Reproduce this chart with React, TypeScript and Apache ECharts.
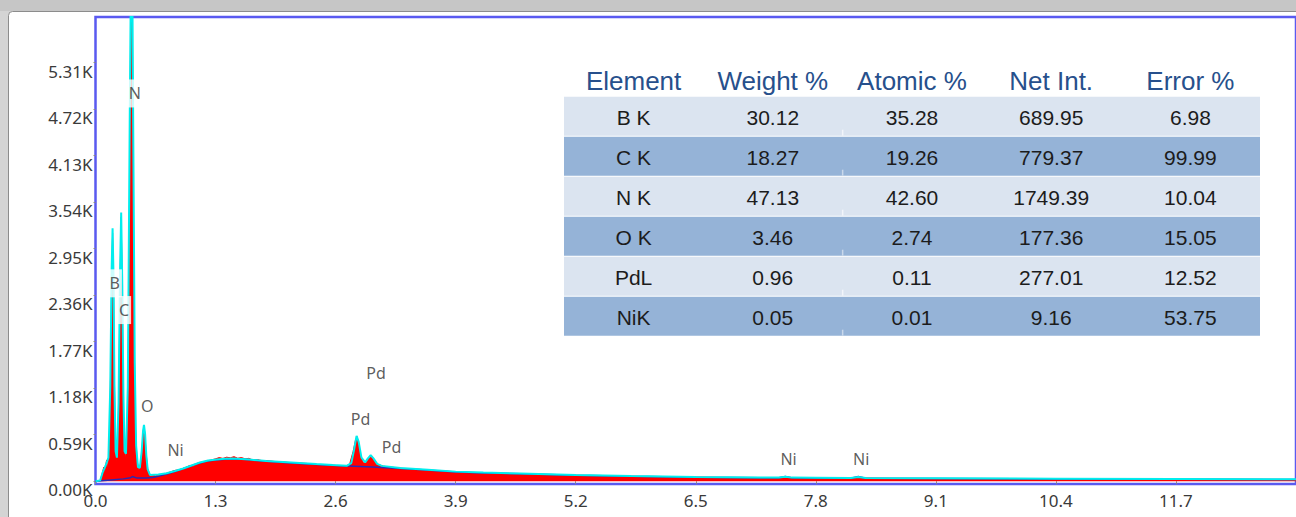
import React, { useEffect, useRef } from "react";
import * as echarts from "echarts";

// ---------- DATA ----------
const xTickInterval = 1.3;
const xMax = 13.0;
const yTickValues = [0, 590, 1180, 1770, 2360, 2950, 3540, 4130, 4720, 5310];

// measured spectrum (red filled)  [keV, counts]
const measuredSpectrum: [number, number][] = [
  [0.0, 0], [0.05, 0], [0.07, 90], [0.09, 180], [0.1, 120], [0.12, 270], [0.13, 160],
  [0.15, 420], [0.165, 1500], [0.175, 2600], [0.185, 3150], [0.195, 2500], [0.205, 1300],
  [0.215, 500], [0.225, 260], [0.24, 380], [0.255, 1300], [0.265, 2500], [0.278, 3350],
  [0.288, 2600], [0.298, 1300], [0.31, 450], [0.325, 280], [0.345, 700], [0.36, 2200],
  [0.375, 4800], [0.392, 7400], [0.405, 4600], [0.418, 2000], [0.432, 700], [0.45, 260],
  [0.47, 150], [0.49, 230], [0.505, 420], [0.515, 620], [0.525, 700], [0.535, 600],
  [0.548, 360], [0.565, 160], [0.59, 80], [0.65, 70], [0.72, 85], [0.78, 105], [0.85, 135],
  [0.92, 150], [0.98, 175], [1.02, 200], [1.06, 190], [1.1, 225], [1.15, 245], [1.2, 255],
  [1.25, 268], [1.3, 285], [1.34, 300], [1.38, 290], [1.42, 305], [1.46, 298], [1.5, 312],
  [1.54, 292], [1.58, 300], [1.62, 285], [1.66, 290], [1.7, 272], [1.75, 275], [1.8, 262],
  [1.9, 255], [2.0, 245], [2.1, 238], [2.2, 232], [2.3, 225], [2.4, 212], [2.5, 205],
  [2.6, 198], [2.7, 192], [2.75, 210], [2.79, 380], [2.815, 520], [2.83, 570], [2.845, 510],
  [2.87, 330], [2.9, 230], [2.94, 260], [2.97, 315], [2.99, 325], [3.02, 270], [3.06, 215],
  [3.12, 190], [3.2, 180], [3.3, 165], [3.45, 150], [3.6, 140], [3.75, 130], [3.9, 118],
  [4.1, 110], [4.3, 102], [4.5, 95], [4.8, 86], [5.2, 75], [5.5, 68], [5.8, 62], [6.2, 56],
  [6.5, 52], [6.9, 47], [7.3, 44], [7.42, 46], [7.47, 55], [7.52, 46], [7.8, 42], [8.1, 40],
  [8.2, 42], [8.26, 52], [8.32, 41], [8.6, 38], [9.1, 35], [9.7, 32], [10.4, 30], [11.0, 28],
  [11.7, 26], [12.3, 24], [13.0, 22],
];

// fitted spectrum envelope (cyan)
const fitSpectrum: [number, number][] = [
  [0.0, 0], [0.05, 10], [0.08, 120], [0.11, 200], [0.14, 300], [0.16, 1200], [0.175, 2700],
  [0.185, 3210], [0.195, 2600], [0.205, 1200], [0.218, 380], [0.232, 300], [0.25, 1000],
  [0.265, 2600], [0.278, 3410], [0.29, 2500], [0.302, 1100], [0.315, 380], [0.33, 350],
  [0.35, 1200], [0.37, 4500], [0.392, 7600], [0.41, 4200], [0.425, 1500], [0.44, 450],
  [0.46, 180], [0.48, 170], [0.5, 380], [0.515, 640], [0.525, 715], [0.537, 600], [0.55, 330],
  [0.565, 150], [0.59, 80], [0.68, 85], [0.77, 101], [0.86, 130], [0.95, 161], [1.04, 200],
  [1.13, 237], [1.22, 262], [1.31, 275], [1.4, 285], [1.49, 288], [1.58, 282], [1.67, 275],
  [1.76, 265], [1.85, 258], [2.03, 245], [2.21, 232], [2.39, 218], [2.57, 205], [2.72, 195],
  [2.77, 230], [2.8, 400], [2.827, 575], [2.85, 500], [2.88, 300], [2.92, 240], [2.95, 290],
  [2.98, 330], [3.01, 290], [3.05, 220], [3.1, 195], [3.3, 168], [3.6, 145], [3.9, 122],
  [4.2, 110], [4.6, 98], [5.2, 80], [5.8, 66], [6.5, 55], [7.2, 48], [7.4, 47], [7.47, 58],
  [7.54, 46], [7.8, 44], [8.18, 41], [8.26, 55], [8.34, 40], [9.1, 37], [10.4, 32],
  [11.7, 28], [13.0, 25],
];

// background (dark blue)
const backgroundCurve: [number, number][] = [
  [0.0, 0], [0.1, 10], [0.2, 20], [0.3, 30], [0.38, 45], [0.4, 60], [0.45, 40], [0.55, 40],
  [0.62, 48], [0.7, 70], [0.8, 100], [0.9, 140], [1.0, 180], [1.1, 222], [1.2, 252],
  [1.3, 270], [1.4, 280], [1.5, 283], [1.6, 278], [1.7, 268], [1.85, 254], [2.0, 240],
  [2.2, 226], [2.4, 212], [2.6, 200], [2.8, 190], [3.0, 180], [3.2, 168], [3.5, 150],
  [3.9, 118], [4.2, 106], [4.6, 95], [5.2, 77], [5.8, 63], [6.5, 52], [7.2, 45], [7.4, 45],
  [7.47, 60], [7.54, 44], [7.8, 42], [8.18, 39], [8.26, 60], [8.34, 38], [9.1, 35],
  [10.4, 30], [11.7, 26], [13.0, 23],
];

// element peak labels
const peakLabelNames = ["N", "B", "C", "O", "Ni", "Pd", "Pd", "Pd", "Ni", "Ni"];
const peakLabelEnergy = [0.425, 0.208, 0.309, 0.56, 0.867, 3.039, 2.87, 3.206, 7.505, 8.291];
const peakLabelCounts = [4920, 2511, 2172, 950, 400, 1373, 789, 438, 283, 283];

// quantification table
const tableHeaders = ["Element", "Weight %", "Atomic %", "Net Int.", "Error %"];
const tableElements = ["B K", "C K", "N K", "O K", "PdL", "NiK"];
const weightPercent = [30.12, 18.27, 47.13, 3.46, 0.96, 0.05];
const atomicPercent = [35.28, 19.26, 42.6, 2.74, 0.11, 0.01];
const netIntensity = [689.95, 779.37, 1749.39, 177.36, 277.01, 9.16];
const errorPercent = [6.98, 99.99, 10.04, 15.05, 12.52, 53.75];

// ---------- COMPONENT ----------
export default function App() {
  const ref = useRef<HTMLDivElement>(null);

  useEffect(() => {
    document.body.style.margin = "0";
    if (!ref.current) return;
    const chart = echarts.init(ref.current, undefined, { renderer: "svg" });

    const graphics: any[] = [];
    // frame
    graphics.push({ type: "rect", z: -20, silent: true, shape: { x: 0, y: 0, width: 1296, height: 517 }, style: { fill: "#d4d4d4" } });
    graphics.push({ type: "rect", z: -19, silent: true, shape: { x: 0, y: 0, width: 1296, height: 11 }, style: { fill: "#c6c6c6" } });
    graphics.push({ type: "rect", z: -18, silent: true, shape: { x: 8.5, y: 11.5, width: 1310, height: 530, r: 4 }, style: { fill: "#ffffff", stroke: "#8c8c8c", lineWidth: 1 } });

    // table
    const tableLeft = 564;
    const colW = 139.2;
    const rowTop = 96.7;
    const rowH = 40;
    const rows = tableElements.map((el, i) => [
      el,
      weightPercent[i].toFixed(2),
      atomicPercent[i].toFixed(2),
      netIntensity[i].toFixed(2),
      errorPercent[i].toFixed(2),
    ]);
    rows.forEach((row, i) => {
      const y = rowTop + i * rowH;
      graphics.push({
        type: "rect", z: 10, silent: true,
        shape: { x: tableLeft, y, width: colW * 5, height: rowH - 1 },
        style: { fill: i % 2 === 0 ? "#dbe4f0" : "#95b3d7" },
      });
      graphics.push({
        type: "rect", z: 11, silent: true,
        shape: { x: tableLeft + colW * 2 - 0.5, y: y + rowH - 7, width: 1.5, height: 6 },
        style: { fill: i % 2 === 0 ? "#f2f5fa" : "#c9d8ea" },
      });
      row.forEach((txt, j) => {
        graphics.push({
          type: "text", z: 12, silent: true,
          style: {
            text: txt, x: tableLeft + colW * (j + 0.5), y: y + 20.5,
            fontSize: 21, fontFamily: "Liberation Sans", fill: "#1c1c1c",
            align: "center", verticalAlign: "middle", textAlign: "center", textVerticalAlign: "middle",
          },
        });
      });
    });
    tableHeaders.forEach((h, j) => {
      graphics.push({
        type: "text", z: 12, silent: true,
        style: {
          text: h, x: tableLeft + colW * (j + 0.5), y: 81,
          fontSize: 26, fontFamily: "Liberation Sans", fill: "#27508c",
          align: "center", verticalAlign: "middle", textAlign: "center", textVerticalAlign: "middle",
        },
      });
    });

    const labelFont = { fontFamily: "Noto Sans", fontSize: 17, color: "#3a3a3a" };

    chart.setOption({
      animation: false,
      backgroundColor: "transparent",
      graphic: { elements: graphics },
      grid: {
        left: 95.5, top: 17, right: 0, bottom: 33,
        show: true, borderColor: "#5a5af0", borderWidth: 2.5, backgroundColor: "transparent",
      },
      xAxis: {
        type: "value", min: 0, max: xMax, interval: xTickInterval,
        axisLine: { show: false },
        axisTick: { show: true, length: 3, lineStyle: { color: "#8a8a8a" } },
        splitLine: { show: false },
        axisLabel: {
          ...labelFont, margin: 8, showMaxLabel: false,
          formatter: (v: number) => v.toFixed(1),
        },
      },
      yAxis: {
        type: "value", min: -35, max: 5890,
        axisLine: { show: false },
        axisTick: { show: true, length: 2, customValues: yTickValues, lineStyle: { color: "#8a8a8a" } },
        splitLine: { show: false },
        axisLabel: {
          ...labelFont, margin: 3, verticalAlign: "top", customValues: yTickValues,
          formatter: (v: number) => (v / 1000).toFixed(2) + "K",
        },
      },
      series: [
        {
          name: "Spectrum", type: "line", data: measuredSpectrum, symbol: "none", showSymbol: false,
          lineStyle: { color: "#ff0000", width: 1 }, areaStyle: { color: "#ff0000", opacity: 1 },
          z: 2, silent: true,
        },
        {
          name: "Background", type: "line", data: backgroundCurve, symbol: "none", showSymbol: false,
          lineStyle: { color: "#2a2ab4", width: 1.5 }, z: 3, silent: true,
        },
        {
          name: "Fit", type: "line", data: fitSpectrum, symbol: "none", showSymbol: false,
          lineStyle: { color: "#00eeee", width: 2 }, z: 4, silent: true,
        },
        {
          name: "Peaks", type: "scatter", symbol: "circle", symbolSize: 1, z: 6, zlevel: 0, silent: true,
          itemStyle: { color: "rgba(0,0,0,0)" },
          data: peakLabelNames.map((n, i) => ({ name: n, value: [peakLabelEnergy[i], peakLabelCounts[i]] })),
          label: {
            show: true, position: "inside", formatter: "{b}",
            fontFamily: "Noto Sans", fontSize: 16, color: "#333333",
            backgroundColor: "#ffffff", padding: [6, 2, 6, 2],
          },
        },
      ],
    });

    return () => chart.dispose();
  }, []);

  return <div ref={ref} style={{ width: 1296, height: 517 }} />;
}
